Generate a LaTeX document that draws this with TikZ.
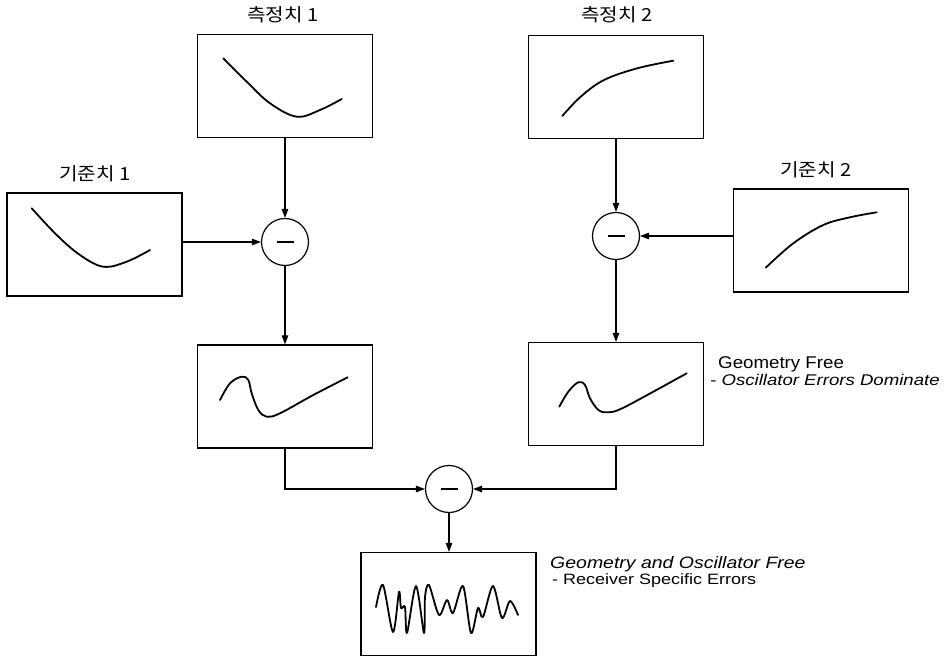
\documentclass[tikz,border=0pt]{standalone}
\usepackage{fontspec}
\usepackage{graphicx}
\setmainfont{Liberation Sans}
\newfontfamily\krfont{Noto Sans CJK KR}
\usetikzlibrary{arrows.meta}
\begin{document}
\begin{tikzpicture}[x=1pt,y=-1pt,
  panel/.style={draw, line width=1.2pt, minimum width=175pt, minimum height=103pt, inner sep=0pt},
  diff/.style={circle, draw, line width=1.2pt, minimum size=47pt, inner sep=0pt,
    path picture={\draw[line width=1.3pt] ([xshift=-8.5pt]path picture bounding box.center) -- ([xshift=8.5pt]path picture bounding box.center);}},
  link/.style={line width=1.1pt, -{Triangle[length=9pt,width=6.5pt]}},
  wire/.style={line width=1.1pt},
  trace/.style={line width=1.8pt, line join=round, line cap=round},
  krlabel/.style={anchor=base, inner sep=0pt, font=\krfont\fontsize{18}{20}\selectfont},
  entext/.style={anchor=base west, inner sep=0pt},
]
\useasboundingbox (0,0) rectangle (947,660);

% panels
\node[panel] (m1) at (285,86) {};
\node[panel] (r1) at (94.5,244.5) {};
\node[panel] (d1) at (285,396.5) {};
\node[panel] (m2) at (616,87) {};
\node[panel] (r2) at (821,240.5) {};
\node[panel] (d2) at (616,394) {};
\node[panel] (b) at (448.5,604) {};

% difference circles
\node[diff] (c1) at (285,242) {};
\node[diff] (c2) at (616,236) {};
\node[diff] (c3) at (449,489) {};

% labels
\node[krlabel] (t1) at (283,22) {\scalebox{1.12}[1]{측정치 1}};
\node[krlabel] (t2) at (617,22) {\scalebox{1.12}[1]{측정치 2}};
\node[krlabel] (t3) at (95,181) {\scalebox{1.12}[1]{기준치 1}};
\node[krlabel] (t4) at (816,177) {\scalebox{1.12}[1]{기준치 2}};

\node[entext, font=\fontsize{17}{20}\selectfont] (gf) at (718,368) {\scalebox{1.1}[1]{Geometry Free}};
\node[entext, font=\itshape\fontsize{15.5}{18}\selectfont] (gfs) at (710,385) {\scalebox{1.2}[1]{- Oscillator Errors Dominate}};
\node[entext, font=\itshape\fontsize{16.5}{19}\selectfont] (gof) at (550,568) {\scalebox{1.18}[1]{Geometry and Oscillator Free}};
\node[entext, font=\fontsize{15}{18}\selectfont] (rse) at (552,584) {\scalebox{1.2}[1]{- Receiver Specific Errors}};

% connectors
\draw[link] (m1.south) -- (c1.north);
\draw[link] (r1.east |- c1.west) -- (c1.west);
\draw[link] (c1.south) -- (d1.north);
\draw[link] (m2.south) -- (c2.north);
\draw[link] (r2.west |- c2.east) -- (c2.east);
\draw[link] (c2.south) -- (d2.north);
\draw[link] (d1.south) -- (d1.south |- c3.west) -- (c3.west);
\draw[link] (d2.south) -- (d2.south |- c3.east) -- (c3.east);
\draw[link] (c3.south) -- (c3.south |- b.north);

% traces
\draw[trace] plot[smooth, tension=0.6] coordinates {(223.3,58.3) (246.7,81.7) (270,103.3) (296.7,116.7) (320,110) (341.7,99)};
\draw[trace] plot[smooth, tension=0.6] coordinates {(31.7,208.3) (56.7,235) (80,255) (103.3,266.7) (126.7,261.7) (150,250)};
\draw[trace] plot[smooth, tension=0.6] coordinates {(220,400) (230,383.3) (241.7,376.7) (248.3,380) (251.7,393.3) (258.3,410) (266.7,416.7) (280,413.3) (313.3,395) (347.7,377.3)};
\draw[trace] plot[smooth, tension=0.6] coordinates {(562.3,116) (580.7,96.7) (604,80) (637.3,68.3) (673.3,60.7)};
\draw[trace] plot[smooth, tension=0.6] coordinates {(765.7,267.7) (793.3,243.3) (823.3,225) (850,217.3) (876.7,212.3)};
\draw[trace] plot[smooth, tension=0.6] coordinates {(559.3,406.7) (568.3,391.7) (578.3,382.3) (585,385) (590,398.3) (598.3,410) (606.7,412.3) (620,409.3) (653.3,391.7) (686.7,373.3)};
\draw[trace] plot[smooth, tension=0.5] coordinates {(376,607) (383,585) (393,632) (399,592) (401,608) (405,607) (407,633) (416,586) (424,633) (425,597) (429,585) (439,615) (447,600) (453,613) (463,586) (471,633) (478,608) (483,617) (493,586) (502,618) (510,601) (518,615)};
\end{tikzpicture}
\end{document}
